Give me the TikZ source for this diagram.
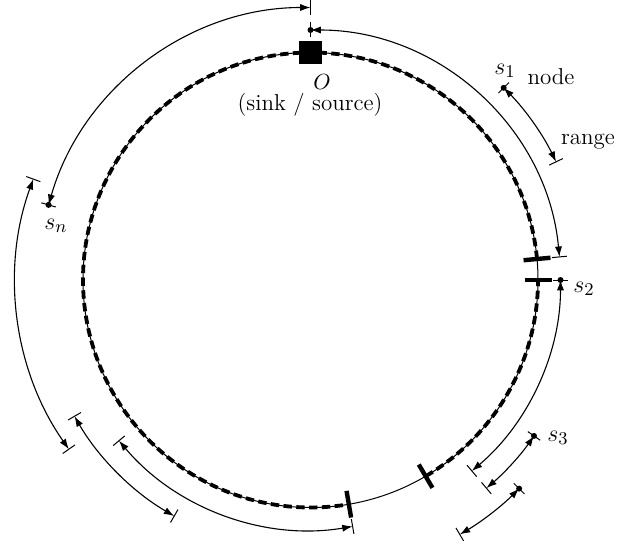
\documentclass[tikz,border=0pt]{standalone}
\usetikzlibrary{arrows.meta}
\begin{document}
\begin{tikzpicture}[x=0.5pt,y=0.5pt,
  ring/.style={line width=0.5pt},
  ringdash/.style={line width=1.9pt, dash pattern=on 4.2pt off 2.2pt},
  ringtick/.style={line width=2.2pt},
  rangearc/.style={line width=0.55pt, {Latex[length=5.2pt,width=3.6pt]}-{Latex[length=5.2pt,width=3.6pt]}},
  bar/.style={line width=0.5pt},
  dot/.style={circle, fill, inner sep=0pt, minimum size=3pt},
  sinkbox/.style={rectangle, fill, inner sep=0pt, minimum size=11.3pt},
  lbl/.style={inner sep=0pt, font=\fontsize{11.5}{14}\selectfont},
  slbl/.style={inner sep=0pt, font=\fontsize{13}{15}\selectfont}]
\useasboundingbox (-310.5,-266) rectangle (308.5,280);

% ring
\coordinate (c) at (0,0);
\draw[ring] (c) circle[radius=227.5];
\draw[ringdash] (5.3:227.5) arc[start angle=5.3, end angle=279.7, radius=227.5];
\draw[ringdash] (-59.6:227.5) arc[start angle=-59.6, end angle=0, radius=227.5];
\draw[ringtick] (5.3:214) -- (5.3:241);
\draw[ringtick] (0:214) -- (0:241);
\draw[ringtick] (-59.6:214) -- (-59.6:241);
\draw[ringtick] (-80.3:214) -- (-80.3:241);
\node[sinkbox] (sink) at (90:227.5) {};

% range of O
\coordinate (o0) at (90:250); \coordinate (o1) at (5.3:250);
\draw[rangearc] (o0) arc[start angle=90, end angle=5.3, radius=250];
\draw[bar] (90:242.5) -- (90:257.5);
\draw[bar] (5.3:242.5) -- (5.3:257.5);
\node[dot] (O) at (o0) {};

% range of s_n
\coordinate (n0) at (164:272.5); \coordinate (n1) at (90:272.5);
\draw[rangearc] (n0) arc[start angle=164, end angle=90, radius=272.5];
\draw[bar] (164:265) -- (164:280);
\draw[bar] (90:265) -- (90:280);
\node[dot] (sn) at (n0) {};

% range of s_1
\coordinate (a0) at (44.85:272.5); \coordinate (a1) at (25.7:272.5);
\draw[rangearc] (a0) arc[start angle=44.85, end angle=25.7, radius=272.5];
\draw[bar] (44.85:265) -- (44.85:280);
\draw[bar] (25.7:265) -- (25.7:280);
\node[dot] (s1) at (a0) {};

% range of s_2
\coordinate (b0) at (0:250); \coordinate (b1) at (-49.8:250);
\draw[rangearc] (b0) arc[start angle=0, end angle=-49.8, radius=250];
\draw[bar] (0:242.5) -- (0:257.5);
\draw[bar] (-49.8:242.5) -- (-49.8:257.5);
\node[dot] (s2) at (b0) {};

% range of s_3
\coordinate (d0) at (-34.9:272.5); \coordinate (d1) at (-49.8:272.5);
\draw[rangearc] (d0) arc[start angle=-34.9, end angle=-49.8, radius=272.5];
\draw[bar] (-34.9:265) -- (-34.9:280);
\draw[bar] (-49.8:265) -- (-49.8:280);
\node[dot] (s3) at (d0) {};

% range of s_4
\coordinate (e0) at (-45:295); \coordinate (e1) at (-59.6:295);
\draw[rangearc] (e0) arc[start angle=-45, end angle=-59.6, radius=295];
\draw[bar] (-45:287.5) -- (-45:302.5);
\draw[bar] (-59.6:287.5) -- (-59.6:302.5);
\node[dot] (s4) at (e0) {};

% further ranges
\coordinate (g0) at (220:250); \coordinate (g1) at (279.7:250);
\draw[rangearc] (g0) arc[start angle=220, end angle=279.7, radius=250];
\draw[bar] (220:242.5) -- (220:257.5);
\draw[bar] (279.7:242.5) -- (279.7:257.5);

\coordinate (h0) at (210:272.5); \coordinate (h1) at (240:272.5);
\draw[rangearc] (h0) arc[start angle=210, end angle=240, radius=272.5];
\draw[bar] (210:265) -- (210:280);
\draw[bar] (240:265) -- (240:280);

\coordinate (i0) at (160:295); \coordinate (i1) at (215:295);
\draw[rangearc] (i0) arc[start angle=160, end angle=215, radius=295];
\draw[bar] (160:287.5) -- (160:302.5);
\draw[bar] (215:287.5) -- (215:302.5);

% labels
\node[inner sep=0pt, font=\fontsize{10.5}{12}\selectfont] (lO) at (11.5,198) {$O$};
\node[lbl] (lsink) at (-0.5,175) {(sink / source)};
\node[slbl] (ls1) at (194.5,209) {$s_1$};
\node[lbl] (lnode) at (240.5,203) {node};
\node[lbl] (lrange) at (277.5,138) {range};
\node[slbl] (ls2) at (273.5,-9) {$s_2$};
\node[slbl] (ls3) at (247.5,-158) {$s_3$};
\node[slbl] (lsn) at (-254.5,54) {$s_n$};
\end{tikzpicture}
\end{document}
